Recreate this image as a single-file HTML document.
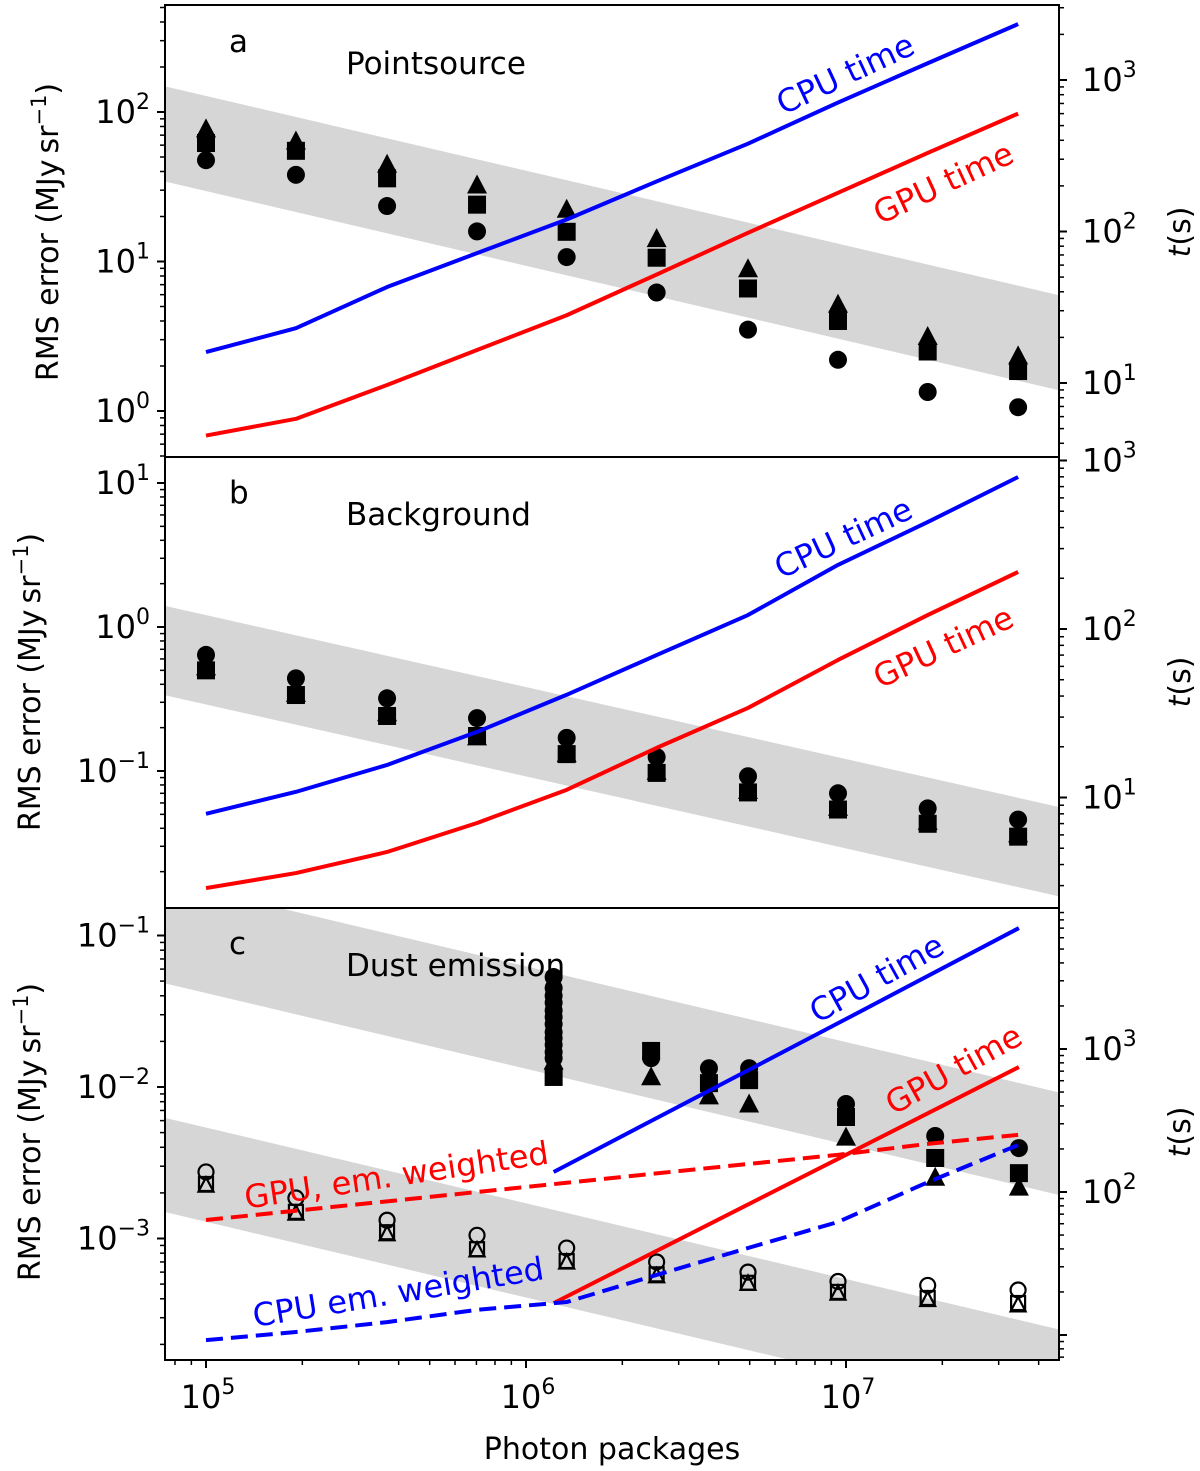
<!DOCTYPE html>
<html><head><meta charset="utf-8">
<style>
html,body{margin:0;padding:0;background:#fff;}
svg{display:block;font-family:"DejaVu Sans","Liberation Sans",sans-serif;}
</style></head>
<body>
<svg id="chart" width="1200" height="1471" viewBox="0 0 1200 1471" xmlns="http://www.w3.org/2000/svg">
<defs>
<clipPath id="clipA"><rect x="165" y="5" width="894" height="452"/></clipPath>
<clipPath id="clipB"><rect x="165" y="457" width="894" height="451"/></clipPath>
<clipPath id="clipC"><rect x="165" y="908" width="894" height="452"/></clipPath>
</defs>
<g id="layer"></g>
</svg>
<script>
// ---------- data ----------
const photonN = [1e5, 1.91e5, 3.68e5, 7.03e5, 1.34e6, 2.56e6, 4.94e6, 9.44e6, 1.8e7, 3.45e7];
// Panel a: point source
const aCircles = [47.6, 38, 23.5, 15.9, 10.7, 6.2, 3.5, 2.2, 1.34, 1.06];
const aSquares = [62, 55, 36, 24, 15.8, 10.6, 6.6, 4.0, 2.5, 1.85];
const aTriangles = [76, 63, 44, 32, 22, 14, 8.8, 5.1, 3.1, 2.3];
const aCpuTime = [16, 23, 43, 72, 120, 214, 380, 710, 1290, 2340];
const aGpuTime = [4.5, 5.8, 9.7, 16.5, 28, 52, 98, 180, 330, 600];
const aBandHi = [128, 12.8];
const aBandLo = [29.6, 2.96];
// Panel b: background
const bCircles = [0.64, 0.44, 0.32, 0.233, 0.17, 0.125, 0.092, 0.070, 0.055, 0.046];
const bSquares = [0.50, 0.337, 0.241, 0.175, 0.131, 0.097, 0.071, 0.054, 0.043, 0.035];
const bTriangles = [0.52, 0.34, 0.25, 0.17, 0.13, 0.098, 0.072, 0.055, 0.044, 0.036];
const bCpuTime = [8, 10.8, 15.6, 24.5, 40.7, 70, 121, 240, 431, 798];
const bGpuTime = [2.9, 3.56, 4.75, 7.06, 11.1, 19.7, 34, 65.5, 121, 218];
const bBandHi = [1.21, 0.121];
const bBandLo = [0.29, 0.029];
// Panel c: dust emission
const dustN = [1.22e6, 2.46e6, 3.73e6, 4.98e6, 1.0e7, 1.9e7, 3.47e7];
const cCircles = [0.0532, 0.0155, 0.0133, 0.0133, 0.00773, 0.00475, 0.00395];
const cSquares = [0.01165, 0.0173, 0.0106, 0.0111, 0.00634, 0.0034, 0.0027];
const cTriangles = [0.0146, 0.0115, 0.0086, 0.0076, 0.0046, 0.0025, 0.00215];
const cExtraCircles = [0.045, 0.040, 0.036, 0.032, 0.029, 0.026, 0.023, 0.021, 0.019, 0.017, 0.0155];
const cOpenCircles = [0.00275, 0.00185, 0.00132, 0.00105, 0.000865, 0.0007, 0.0006, 0.00052, 0.00049, 0.000457];
const cOpenSquares = [0.00229, 0.0015, 0.0011, 0.00085, 0.00071, 0.00058, 0.00051, 0.000444, 0.000405, 0.000375];
const cOpenTriangles = [0.00222, 0.00145, 0.00106, 0.00083, 0.00069, 0.00056, 0.0005, 0.00043, 0.00039, 0.00036];
const cTimeN = [1.22e6, 1.0e7, 3.47e7];
const cCpuTime = [138, 1620, 7010];
const cGpuTime = [16.7, 182, 748];
const cGpuWeighted = [63.7, 74, 86, 100, 116, 135, 157, 182, 217, 251];
const cCpuWeighted = [9.2, 10.5, 12.3, 15, 17, 26.3, 40.6, 61.7, 117, 213];
const cBand1Hi = [0.198, 0.0198];
const cBand1Lo = [0.0417, 0.00417];
const cBand2Hi = [0.0054, 0.00054];
const cBand2Lo = [0.00129, 0.000129];
const bandN = [1e5, 1e7];
const xTickLabels = ["5", "6", "7"];

// ---------- axes ----------
const NS = "http://www.w3.org/2000/svg";
const layer = document.getElementById('layer');
const L = Math.log10;
function X(n){ return 206 + 320*(L(n)-5); }
const panels = {
  a:{top:5,bot:457,left:v=>411-149.5*L(v),right:t=>383-151.5*(L(t)-1),clip:'clipA',lt:[0,2],rt:[1,3],lrange:[-0.31,2.72],rrange:[0.51,3.5],ylabX:48,tlabY:232},
  b:{top:457,bot:908,left:v=>627-144*L(v),right:t=>629-168.5*(L(t)-2),clip:'clipB',lt:[-1,1],rt:[1,3],lrange:[-1.95,1.18],rrange:[0.34,3.02],ylabX:30,tlabY:682},
  c:{top:908,bot:1360,left:v=>1087-151.5*(L(v)+2),right:t=>1192-143*(L(t)-2),clip:'clipC',lt:[-3,-1],rt:[2,3],lrange:[-3.8,-0.82],rrange:[0.83,3.98],ylabX:30,tlabY:1132}
};
function el(tag, attrs, parent){
  const e = document.createElementNS(NS, tag);
  for (const k in attrs) e.setAttribute(k, attrs[k]);
  (parent||layer).appendChild(e);
  return e;
}
function group(name, clip){
  const g = el('g', clip?{'clip-path':'url(#'+clip+')'}:{});
  
  
  return g;
}
function band(p, hi, lo, name){
  const g = group(name, p.clip);
  const ext = (arr, fn) => {
    const x1 = X(bandN[0]), x2 = X(bandN[1]);
    const y1 = fn(arr[0]), y2 = fn(arr[1]);
    const s = (y2-y1)/(x2-x1);
    return [[100, y1+s*(100-x1)], [1120, y1+s*(1120-x1)]];
  };
  const h = ext(hi, p.left), l = ext(lo, p.left);
  const poly = el('polygon', {points:[h[0],h[1],l[1],l[0]].map(q=>q.join(',')).join(' '), fill:'#d6d6d6'}, g);
  
  
}
function line(p, ns, vals, scale, color, name, dashed){
  const g = group(name, p.clip);
  const pts = ns.map((n,i)=>X(n)+','+scale(vals[i])).join(' ');
  const pl = el('polyline', {points:pts, fill:'none', stroke:color, 'stroke-width':4, 'stroke-linejoin':'round'}, g);
  if (dashed) pl.setAttribute('stroke-dasharray', '17,8');
  
  
}
function marker(g, shape, cx, cy, open){
  const st = open ? {fill:'none', stroke:'#000', 'stroke-width':2.2} : {fill:'#000'};
  let m;
  if (shape==='circle') m = el('circle', Object.assign({cx:cx, cy:cy, r: open?7.5:9}, st), g);
  else if (shape==='square') { const s = open?7:9; m = el('rect', Object.assign({x:cx-s, y:cy-s, width:2*s, height:2*s}, st), g); }
  else { const s = open?7.5:10; m = el('polygon', Object.assign({points:`${cx},${cy-s*1.15} ${cx+s},${cy+s*0.75} ${cx-s},${cy+s*0.75}`}, st), g); }
  
  
}
function scatter(p, ns, vals, shape, name, open){
  const g = group(name, p.clip);
  ns.forEach((n,i)=>{ if (vals[i]!=null) marker(g, shape, X(n), p.left(vals[i]), open); });
}
function rotText(txt, x, y, ang, color, name, size){
  const t = el('text', {x:x, y:y, fill:color, 'font-size':size||32, 'text-anchor':'middle', transform:`rotate(${ang} ${x} ${y})`});
  t.textContent = txt;
  
  
  return t;
}
function powLabel(g, x, y, exp, anchor, name){
  const t = el('text', {x:x, y:y, 'font-size':32, 'text-anchor':anchor, fill:'#000'}, g);
  
  
  t.appendChild(document.createTextNode('10'));
  const s = el('tspan', {dy:-14, 'font-size':22}, t);
  s.textContent = (exp<0?'\u2212':'') + Math.abs(exp);
}
function axes(p, key){
  const g = group('axes-panel-'+key);
  for (let d=Math.floor(p.lrange[0]); d<=Math.ceil(p.lrange[1]); d++){
    for (let m=1; m<10; m++){
      const lv = d + L(m);
      if (lv < p.lrange[0] || lv > p.lrange[1]) continue;
      const y = p.left(Math.pow(10, lv));
      const tk = el('line', {x1:165, x2: m===1?157:160, y1:y, y2:y, stroke:'#000', 'stroke-width':m===1?2:1.5}, g);
      
      
    }
  }
  for (let d=p.lt[0]; d<=p.lt[1]; d++) powLabel(g, 150, p.left(Math.pow(10,d))+11, d, 'end', 'left-y-tick-label');
  for (let d=Math.floor(p.rrange[0]); d<=Math.ceil(p.rrange[1]); d++){
    for (let m=1; m<10; m++){
      const lv = d + L(m);
      if (lv < p.rrange[0] || lv > p.rrange[1]) continue;
      const y = p.right(Math.pow(10, lv));
      const tk = el('line', {x1:1059, x2: m===1?1067:1064, y1:y, y2:y, stroke:'#000', 'stroke-width':m===1?2:1.5}, g);
      
      
    }
  }
  for (let d=p.rt[0]; d<=p.rt[1]; d++) powLabel(g, 1082, p.right(Math.pow(10,d))+11, d, 'start', 'right-y-tick-label');
  const fr = el('rect', {x:165, y:p.top, width:894, height:p.bot-p.top, fill:'none', stroke:'#000', 'stroke-width':2}, g);
  
  
  const yl = el('text', {x:p.ylabX, y:p.tlabY, 'font-size':30, 'text-anchor':'middle', fill:'#000', transform:`rotate(-90 ${p.ylabX} ${p.tlabY})`, dy:10}, g);
  
  
  yl.appendChild(document.createTextNode('RMS error (MJy\u2009sr'));
  const sup = el('tspan', {dy:-12, 'font-size':21}, yl); sup.textContent = '\u22121';
  const cl = el('tspan', {dy:12}, yl); cl.textContent = ')';
  const tl = el('text', {x:1180, y:p.tlabY, 'font-size':30, 'text-anchor':'middle', fill:'#000', transform:`rotate(-90 1180 ${p.tlabY})`, dy:10}, g);
  
  
  const ti = el('tspan', {'font-style':'italic'}, tl); ti.textContent = 't';
  tl.appendChild(document.createTextNode('(s)'));
}

// ---------- panel a ----------
const A = panels.a;
band(A, aBandHi, aBandLo, 'band-pointsource');
scatter(A, photonN, aCircles, 'circle', 'series-a-circles');
scatter(A, photonN, aSquares, 'square', 'series-a-squares');
scatter(A, photonN, aTriangles, 'triangle', 'series-a-triangles');
line(A, photonN, aCpuTime, A.right, '#0000ff', 'cpu-time-a');
line(A, photonN, aGpuTime, A.right, '#ff0000', 'gpu-time-a');
// ---------- panel b ----------
const B = panels.b;
band(B, bBandHi, bBandLo, 'band-background');
scatter(B, photonN, bTriangles, 'triangle', 'series-b-triangles');
scatter(B, photonN, bSquares, 'square', 'series-b-squares');
scatter(B, photonN, bCircles, 'circle', 'series-b-circles');
line(B, photonN, bCpuTime, B.right, '#0000ff', 'cpu-time-b');
line(B, photonN, bGpuTime, B.right, '#ff0000', 'gpu-time-b');
// ---------- panel c ----------
const C = panels.c;
band(C, cBand1Hi, cBand1Lo, 'band-dust-upper');
band(C, cBand2Hi, cBand2Lo, 'band-dust-lower');
scatter(C, dustN, cCircles, 'circle', 'series-c-circles');
scatter(C, cExtraCircles.map(()=>dustN[0]), cExtraCircles, 'circle', 'series-c-extra');
scatter(C, dustN, cSquares, 'square', 'series-c-squares');
scatter(C, dustN, cTriangles, 'triangle', 'series-c-triangles');
scatter(C, photonN, cOpenCircles, 'circle', 'series-c-open-circles', true);
scatter(C, photonN, cOpenSquares, 'square', 'series-c-open-squares', true);
scatter(C, photonN, cOpenTriangles, 'triangle', 'series-c-open-triangles', true);
line(C, cTimeN, cCpuTime, C.right, '#0000ff', 'cpu-time-c');
line(C, cTimeN, cGpuTime, C.right, '#ff0000', 'gpu-time-c');
line(C, photonN, cGpuWeighted, C.right, '#ff0000', 'gpu-em-weighted', true);
line(C, photonN, cCpuWeighted, C.right, '#0000ff', 'cpu-em-weighted', true);

axes(A, 'a'); axes(B, 'b'); axes(C, 'c');

// x axis (bottom)
const gx = group('x-axis');
for (let d=4; d<=7; d++){
  for (let m=1; m<10; m++){
    const n = m*Math.pow(10,d), x = X(n);
    if (x < 165 || x > 1059) continue;
    const tk = el('line', {x1:x, x2:x, y1:1360, y2: m===1?1368:1365, stroke:'#000', 'stroke-width':m===1?2:1.5}, gx);
    
    
  }
}
xTickLabels.forEach(e=>{ powLabel(gx, X(Math.pow(10, +e))+2, 1408, +e, 'middle', 'x-tick-label'); });
const xt = el('text', {x:612, y:1459, 'font-size':30, 'text-anchor':'middle', fill:'#000'}, gx);
xt.textContent = 'Photon packages';



function plain(txt, x, y, name){
  const t = el('text', {x:x, y:y, 'font-size':31, fill:'#000'});
  t.textContent = txt;
  
  
}
plain('a', 229, 52, 'panel-letter-a'); plain('Pointsource', 346, 74, 'panel-title-pointsource');
plain('b', 229, 503, 'panel-letter-b'); plain('Background', 346, 525, 'panel-title-background');
plain('c', 229, 954, 'panel-letter-c'); plain('Dust emission', 346, 976, 'panel-title-dust-emission');
rotText('CPU time', 850, 84, -25, '#0000ff', 'cpu-time-label-a');
rotText('GPU time', 948, 193, -25, '#ff0000', 'gpu-time-label-a');
rotText('CPU time', 848, 548, -25, '#0000ff', 'cpu-time-label-b');
rotText('GPU time', 948, 657, -25, '#ff0000', 'gpu-time-label-b');
rotText('CPU time', 882, 988, -29, '#0000ff', 'cpu-time-label-c');
rotText('GPU time', 959, 1079, -29, '#ff0000', 'gpu-time-label-c');
rotText('GPU, em. weighted', 398, 1186, -8.5, '#ff0000', 'gpu-em-weighted-label');
rotText('CPU em. weighted', 400, 1303, -9.4, '#0000ff', 'cpu-em-weighted-label');
</script>
</body></html>
